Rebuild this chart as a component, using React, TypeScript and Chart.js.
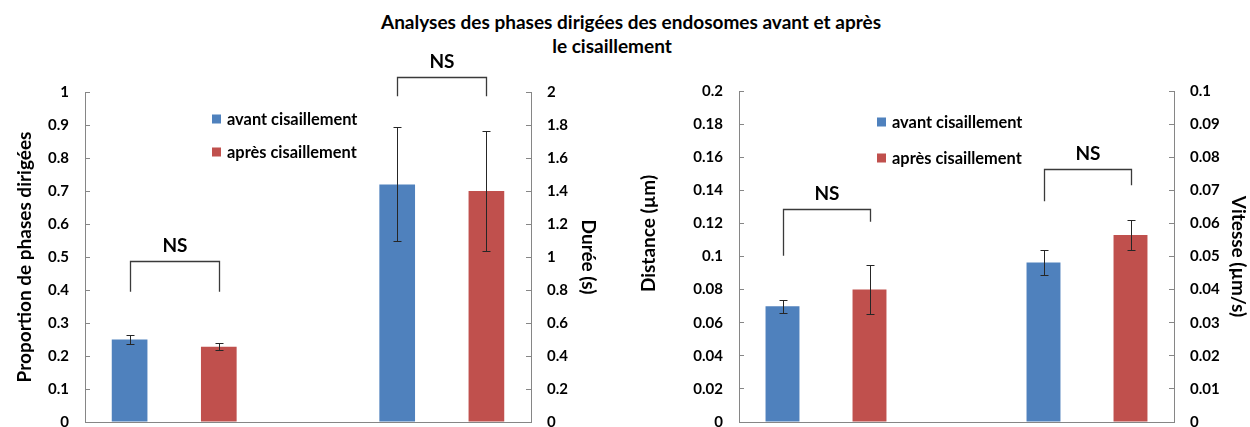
import React, { useEffect, useRef } from "react";
import { Chart, registerables } from "chart.js";

Chart.register(...registerables);

const FONT = "Lato, 'DejaVu Sans', sans-serif";
const AXIS_COLOR = "#868686";
const INK = "#000000";

const titleLines = ["Analyses des phases dirigées des endosomes avant et après", "le cisaillement"];
const seriesNames = ["avant cisaillement", "après cisaillement"];
const seriesColors = ["#4F81BD", "#C0504D"];
const slotLabels = ["avant 1", "après 1", "", "avant 2", "après 2"];
const firstPairSlots = [0, 1];
const secondPairSlots = [3, 4];

const proportionValues = [0.25, 0.228];
const proportionErrors = [0.014, 0.01];
const dureeValues = [1.44, 1.4];
const dureeErrors = [0.345, 0.365];
const distanceValues = [0.07, 0.08];
const distanceErrors = [0.004, 0.015];
const vitesseValues = [0.0482, 0.0565];
const vitesseErrors = [0.0037, 0.0045];

const significanceLabel = "NS";
// [bracket bar, left leg end, right leg end], in the units of the bracket's axis
const proportionBracket = [0.488, 0.395, 0.395];
const dureeBracket = [2.088, 1.975, 1.975];
const distanceBracket = [0.129, 0.1005, 0.121];
const vitesseBracket = [0.0763, 0.0667, 0.0715];

const axisTitles = ["Proportion de phases dirigées", "Durée (s)", "Distance (µm)", "Vitesse (µm/s)"];
const proportionRange = [0, 1, 0.1];
const dureeRange = [0, 2, 0.2];
const distanceRange = [0, 0.2, 0.02];
const vitesseRange = [0, 0.1, 0.01];

function pairDatasets(values: number[], errors: number[], slots: number[], axisId: string) {
  return values.map((v, i) => {
    const data = slotLabels.map((_, k) => (k === slots[i] ? v : null));
    const errs = slotLabels.map((_, k) => (k === slots[i] ? errors[i] : null));
    return {
      label: seriesNames[i],
      data,
      errors: errs,
      yAxisID: axisId,
      backgroundColor: seriesColors[i],
      borderWidth: 0,
      grouped: false,
    };
  });
}

const errorBarPlugin = {
  id: "errorBars",
  afterDatasetsDraw(chart: any) {
    const ctx = chart.ctx;
    ctx.save();
    ctx.strokeStyle = "#262626";
    ctx.lineWidth = 1;
    chart.data.datasets.forEach((ds: any, di: number) => {
      const meta = chart.getDatasetMeta(di);
      const scale = chart.scales[ds.yAxisID];
      meta.data.forEach((el: any, k: number) => {
        const v = ds.data[k];
        const e = ds.errors ? ds.errors[k] : null;
        if (v == null || e == null) return;
        const x = Math.round(el.x) + 0.5;
        const y1 = Math.round(scale.getPixelForValue(v + e)) + 0.5;
        const y2 = Math.round(scale.getPixelForValue(v - e)) + 0.5;
        ctx.beginPath();
        ctx.moveTo(x, y1);
        ctx.lineTo(x, y2);
        ctx.moveTo(x - 4, y1);
        ctx.lineTo(x + 4, y1);
        ctx.moveTo(x - 4, y2);
        ctx.lineTo(x + 4, y2);
        ctx.stroke();
      });
    });
    ctx.restore();
  },
};

const bracketPlugin = {
  id: "brackets",
  afterDraw(chart: any, _args: any, opts: any) {
    if (!opts || !opts.items) return;
    const ctx = chart.ctx;
    const xs = chart.scales.x;
    ctx.save();
    ctx.strokeStyle = "#3a3a3a";
    ctx.lineWidth = 1.3;
    ctx.fillStyle = INK;
    ctx.font = opts.font;
    ctx.textAlign = "center";
    ctx.textBaseline = "middle";
    opts.items.forEach((b: any) => {
      const ys = chart.scales[b.axis];
      const xa = Math.round(xs.getPixelForValue(b.slots[0])) + 0.5;
      const xb = Math.round(xs.getPixelForValue(b.slots[1])) + 0.5;
      const yt = Math.round(ys.getPixelForValue(b.levels[0])) + 0.5;
      const yl = ys.getPixelForValue(b.levels[1]);
      const yr = ys.getPixelForValue(b.levels[2]);
      ctx.beginPath();
      ctx.moveTo(xa, yl);
      ctx.lineTo(xa, yt);
      ctx.lineTo(xb, yt);
      ctx.lineTo(xb, yr);
      ctx.stroke();
      ctx.fillText(b.label, (xa + xb) / 2, yt - opts.labelGap);
    });
    ctx.restore();
  },
};

const legendPlugin = {
  id: "innerLegend",
  afterDraw(chart: any, _args: any, opts: any) {
    if (!opts || !opts.show) return;
    const ctx = chart.ctx;
    const area = chart.chartArea;
    ctx.save();
    ctx.font = opts.font;
    ctx.textAlign = "left";
    ctx.textBaseline = "middle";
    seriesNames.forEach((name, i) => {
      const ds = chart.data.datasets.find((d: any) => d.label === name);
      const x = area.left + opts.dx;
      const y = area.top + opts.dy + i * opts.rowGap;
      ctx.fillStyle = ds.backgroundColor;
      ctx.fillRect(x, y - opts.box / 2, opts.box, opts.box);
      ctx.fillStyle = INK;
      ctx.fillText(name, x + opts.box + 6, y + 1);
    });
    ctx.restore();
  },
};

const sideTitlePlugin = {
  id: "sideTitle",
  afterDraw(chart: any, _args: any, opts: any) {
    if (!opts || !opts.text) return;
    const ctx = chart.ctx;
    const area = chart.chartArea;
    const scale = chart.scales[opts.axis];
    ctx.save();
    ctx.font = opts.font;
    ctx.fillStyle = INK;
    ctx.textAlign = "center";
    ctx.textBaseline = "middle";
    ctx.translate(scale.left + opts.dx, (area.top + area.bottom) / 2 + opts.dy);
    ctx.rotate(-Math.PI / 2);
    ctx.fillText(opts.text, 0, 0);
    ctx.restore();
  },
};

const tickFmt = (v: any) => String(parseFloat(Number(v).toFixed(4)));

function yAxis(position: string, range: number[], width: number, title: string | null) {
  return {
    type: "linear",
    position,
    min: range[0],
    max: range[1],
    afterFit: (s: any) => {
      s.width = width;
    },
    ticks: {
      stepSize: range[2],
      padding: 21,
      color: INK,
      font: { family: FONT, size: 15, weight: "bold" },
      callback: tickFmt,
    },
    grid: {
      display: true,
      drawOnChartArea: false,
      drawTicks: true,
      tickLength: -5,
      color: AXIS_COLOR,
    },
    border: { display: true, color: AXIS_COLOR, width: 1 },
    title: {
      display: !!title,
      text: title || "",
      color: INK,
      padding: 0,
      font: { family: FONT, size: 19, weight: "bold" },
    },
  };
}

const xAxis = {
  type: "category",
  offset: true,
  grid: { display: false },
  ticks: { display: false },
  border: { display: true, color: AXIS_COLOR, width: 1 },
  afterFit: (s: any) => {
    s.height = 0;
  },
};

function makeConfig(
  datasets: any[],
  scales: any,
  padding: any,
  brackets: any[],
  legend: any,
  sideTitle: any,
  barPercentage: number
) {
  return {
    type: "bar",
    data: { labels: slotLabels, datasets },
    options: {
      responsive: false,
      animation: false,
      events: [],
      devicePixelRatio: 1,
      layout: { padding },
      datasets: { bar: { categoryPercentage: 1, barPercentage, grouped: false } },
      scales,
      plugins: {
        legend: { display: false },
        tooltip: { enabled: false },
        title: { display: false },
        brackets: { items: brackets, font: `bold 19px ${FONT}`, labelGap: 16 },
        innerLegend: legend,
        sideTitle,
      },
    },
    plugins: [errorBarPlugin, bracketPlugin, legendPlugin, sideTitlePlugin],
  };
}

function ChartCanvas({ config, width, height, left }: any) {
  const ref = useRef<HTMLCanvasElement | null>(null);
  useEffect(() => {
    if (!ref.current) return;
    const chart = new Chart(ref.current, config());
    return () => chart.destroy();
  }, []);
  return (
    <canvas
      ref={ref}
      width={width}
      height={height}
      style={{ position: "absolute", left, top: 0, width, height }}
    />
  );
}

const CANVAS_H = 452;

const leftConfig = () =>
  makeConfig(
    [
      ...pairDatasets(proportionValues, proportionErrors, firstPairSlots, "y"),
      ...pairDatasets(dureeValues, dureeErrors, secondPairSlots, "y1"),
    ],
    {
      x: xAxis,
      y: yAxis("left", proportionRange, 72, axisTitles[0]),
      y1: yAxis("right", dureeRange, 69, axisTitles[1]),
    },
    { left: 13, right: 0, top: 92, bottom: 0 },
    [
      { axis: "y", slots: firstPairSlots, levels: proportionBracket, label: significanceLabel },
      { axis: "y1", slots: secondPairSlots, levels: dureeBracket, label: significanceLabel },
    ],
    { show: true, font: `bold 16.4px ${FONT}`, dx: 127, dy: 27, rowGap: 33, box: 9 },
    null,
    0.4
  );

const rightConfig = () =>
  makeConfig(
    [
      ...pairDatasets(distanceValues, distanceErrors, firstPairSlots, "y"),
      ...pairDatasets(vitesseValues, vitesseErrors, secondPairSlots, "y1"),
    ],
    {
      x: xAxis,
      y: yAxis("left", distanceRange, 109, null),
      y1: yAxis("right", vitesseRange, 76, axisTitles[3]),
    },
    { left: 0, right: 0, top: 91, bottom: 0 },
    [
      { axis: "y", slots: firstPairSlots, levels: distanceBracket, label: significanceLabel },
      { axis: "y1", slots: secondPairSlots, levels: vitesseBracket, label: significanceLabel },
    ],
    { show: true, font: `bold 16.4px ${FONT}`, dx: 138, dy: 31, rowGap: 36, box: 9 },
    { text: axisTitles[2], axis: "y", dx: 19, dy: -23, font: `bold 19px ${FONT}` },
    0.39
  );

export default function App() {
  const titleStyle: any = {
    position: "absolute",
    transform: "translateX(-50%)",
    whiteSpace: "nowrap",
    fontFamily: FONT,
    fontWeight: "bold",
    fontSize: 19,
    lineHeight: "24px",
    color: INK,
  };
  return (
    <div
      style={{
        position: "fixed",
        left: 0,
        top: 0,
        width: 1250,
        height: 427,
        overflow: "hidden",
        background: "#ffffff",
      }}
    >
      <div style={{ ...titleStyle, left: 631, top: 10 }}>{titleLines[0]}</div>
      <div style={{ ...titleStyle, left: 612, top: 34 }}>{titleLines[1]}</div>
      <ChartCanvas config={leftConfig} width={600} height={CANVAS_H} left={0} />
      <ChartCanvas config={rightConfig} width={620} height={CANVAS_H} left={630} />
    </div>
  );
}
